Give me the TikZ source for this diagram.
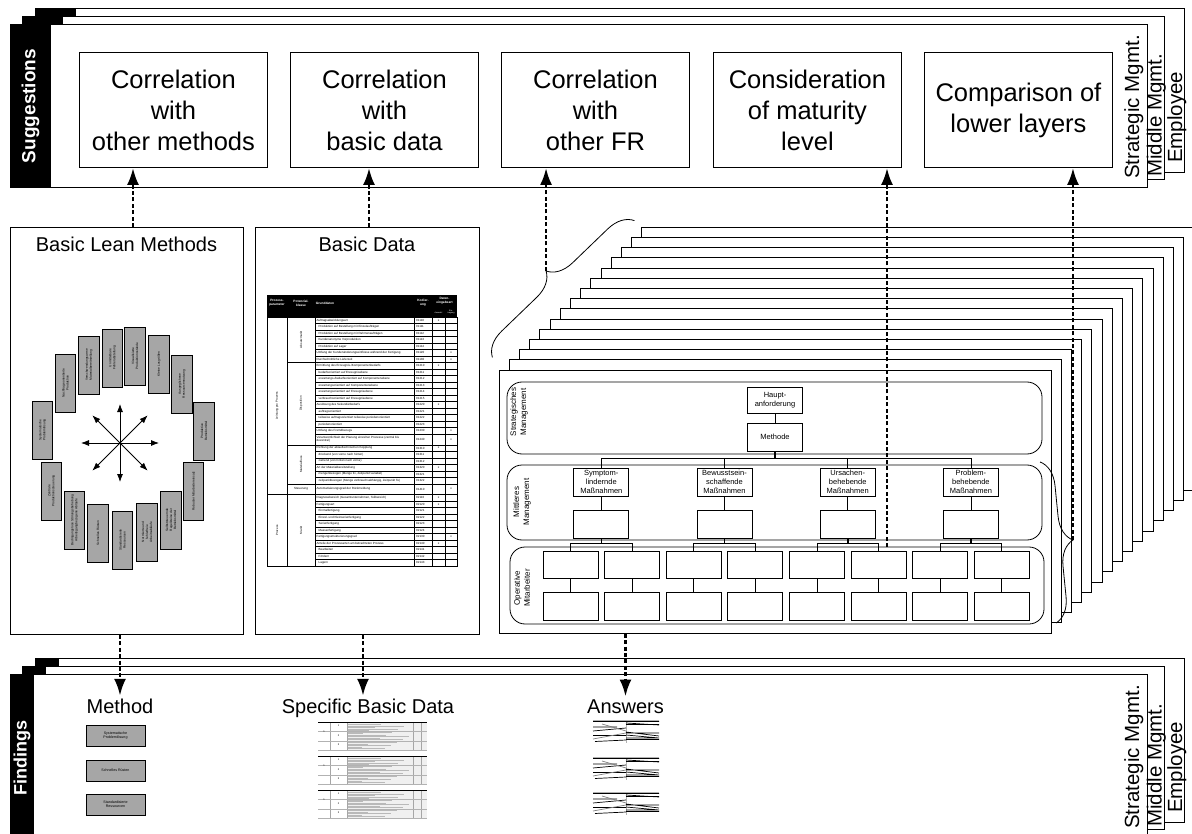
\documentclass[tikz,border=0pt]{standalone}
\usepackage{fontspec}
\setmainfont{Liberation Sans}
\usetikzlibrary{calc, positioning, arrows.meta, decorations.pathreplacing}

\tikzstyle{dasharrow} = [draw, line width=2.7pt, dash pattern=on 4pt off 2.4pt, -{Latex[length=17pt,width=12pt]}]
\tikzstyle{sheet} = [draw, line width=0.8pt, fill=white]
\tikzstyle{sugbox} = [draw, line width=0.9pt, anchor=north west, minimum width=188pt, minimum height=115pt, inner sep=0pt, align=center, font=\fontsize{25.5}{31}\selectfont]
\tikzstyle{panel} = [draw, line width=0.9pt, anchor=north west, inner sep=0pt]
\tikzstyle{paneltitle} = [anchor=base, inner sep=2.5pt, font=\fontsize{20}{24}\selectfont]
\tikzstyle{mgmt} = [rotate=90, anchor=base west, inner sep=0pt, font=\fontsize{20.5}{24}\selectfont]
\tikzstyle{leanbox} = [draw, fill=black!35, line width=0.7pt, rotate=90, minimum width=58pt, minimum height=20.5pt, inner sep=0.5pt, align=center, font=\fontsize{3.2}{3.9}\selectfont]
\tikzstyle{methbox} = [draw, fill=black!35, line width=0.8pt, minimum width=59pt, minimum height=21pt, inner sep=0.5pt, align=center, font=\fontsize{3.6}{4.4}\selectfont]
\tikzstyle{orgbox} = [draw, line width=0.8pt, fill=white, minimum width=55pt, minimum height=28pt, inner sep=0pt, align=center, font=\fontsize{7.5}{9.2}\selectfont]
\tikzstyle{lane} = [draw, line width=0.8pt, rounded corners=15pt]
\tikzstyle{lanelabel} = [rotate=90, align=center, inner sep=0pt, font=\fontsize{8}{10}\selectfont]
\tikzstyle{cell} = [anchor=west, inner sep=0pt, align=left]

\begin{document}
\begin{tikzpicture}[x=1pt, y=-1pt]
\useasboundingbox (0,0) rectangle (1192,834);

% Stacked bands (Suggestions on top, Findings at the bottom)
\foreach \dy/\tw/\band/\fs/\ty in {0/41/Suggestions/19/106, 650/24/Findings/18/758} {
    \draw[sheet] (35,8+\dy) rectangle (1184,172+\dy);
    \fill (35,8+\dy) rectangle (35+\tw,172+\dy);
    \draw[sheet] (22,16+\dy) rectangle (1164,179+\dy);
    \fill (22,16+\dy) rectangle (22+\tw,179+\dy);
    \draw[sheet] (10,24+\dy) rectangle (1147,187+\dy);
    \fill (10,24+\dy) rectangle (10+\tw,187+\dy);
    \node[rotate=90, text=white, font=\bfseries\fontsize{\fs}{\fs}\selectfont] (band\dy) at (10+\tw/2,\ty) {\band};
    \node[mgmt] (strat\dy) at (1139,179+\dy) {Strategic Mgmt.};
    \node[mgmt] (middle\dy) at (1161.5,177+\dy) {Middle Mgmt.};
    \node[mgmt] (empl\dy) at (1182,163+\dy) {Employee};
}

% Suggestions
\node[sugbox] (corrMeth) at (79,52) {Correlation\\with\\other methods};
\node[sugbox] (corrData) at (290,52) {Correlation\\with\\basic data};
\node[sugbox] (corrFR) at (501,52) {Correlation\\with\\other FR};
\node[sugbox] (maturity) at (713,52) {Consideration\\of maturity\\level};
\node[sugbox] (lowerLay) at (924,52) {Comparison of\\lower layers};

% Basic Lean Methods
\node[panel, minimum width=233pt, minimum height=407pt] (leanBox) at (10,227) {};
\node[paneltitle] (leanTitle) at (126.5,252) {Basic Lean Methods};
\foreach \x/\y/\txt [count=\n] in {
    112.5/358/{Unmittelbare\\Fehlerabstellung},
    135/356/{Visualisierte\\Produktionsstände},
    159/364/{Kleine Losgrößen},
    182/384/{Ausgeglichene\\Ressourcennutzung},
    204/431/{Produktive\\Betriebsmittel},
    193.5/491/{Robuster Mitarbeitereinsatz},
    171/520/{Selbststeuernde\\Regelkreise der\\Betriebsmittel},
    147/532/{Normierte und\\fehlerfreie\\Arbeitsabläufe},
    122.5/540/{Standardisierte\\Ressourcen},
    98/533/{Schnelles Rüsten},
    74.5/520/{Bedingungslose Störungsbehebung\\Arbeitsgangbezogene Abläufe},
    51.5/491/{Zentrale\\Produktionssteuerung},
    42.5/430/{Systematische\\Problemlösung},
    65.5/383/{Nachfrageorientierte\\Produktion},
    89/365/{Verschwendungsarme\\Materialbereitstellung}}
    \node[leanbox] (lean\n) at (\x,\y) {\txt};
\coordinate (hub) at (120,443);
\foreach \a in {0,45,...,315}
    \draw[line width=0.8pt, -{Latex[length=8pt,width=6pt]}] (hub) -- ++(\a:39);

% Basic Data
\node[panel, minimum width=224pt, minimum height=407pt] (dataBox) at (255,227) {};
\node[paneltitle] (dataTitle) at (367,252) {Basic Data};
\begin{scope}[shift={(267,295)}, font=\fontsize{3}{3.6}\selectfont]
    \fill (0,0) rectangle (190,22);
    \foreach \x/\y/\txt [count=\n] in {10/8/{Prozess-\\parameter}, 34/8/{Potenzial-\\klasse}, 58/8/Grunddaten,
                                       156/8/{Kodier-\\ung}, 177.5/6/{Daten-\\eingabeart}}
        \node[text=white, align=center, inner sep=0pt, font=\bfseries\fontsize{3.2}{3.8}\selectfont] (head\n) at (\x,\y) {\txt};
    \node[text=white, inner sep=0pt, font=\fontsize{2}{2.4}\selectfont] (headA) at (171.5,18) {Auswahl};
    \node[text=white, align=center, inner sep=0pt, font=\fontsize{2}{2.4}\selectfont] (headB) at (184,17) {Ein-\\tragung};
    \draw[line width=0.5pt] (0,22) rectangle (190,271);
    \foreach \x in {20,48,147,165,178}
        \draw[line width=0.4pt] (\x,22) -- (\x,271);
    \foreach \y in {28.5,35,...,139}
        \draw[line width=0.3pt] (48,\y) -- (190,\y);
    \foreach \y in {149.75,156.25,...,188.75}
        \draw[line width=0.3pt] (48,\y) -- (190,\y);
    \foreach \y in {199.5,206,...,264.5}
        \draw[line width=0.3pt] (48,\y) -- (190,\y);
    \foreach \y in {67.5,149.75,188.75}
        \draw[line width=0.4pt] (20,\y) -- (48,\y);
    \draw[line width=0.4pt] (0,199.5) -- (48,199.5);
    % group labels
    \node[rotate=90, inner sep=0pt] (grpA) at (10,110.75) {Leistung pro Prozess};
    \node[rotate=90, inner sep=0pt] (grpB) at (10,235.25) {Prozess};
    \node[rotate=90, inner sep=0pt] (grpC) at (34,44.75) {Absatzmarkt};
    \node[rotate=90, inner sep=0pt] (grpD) at (34,108.6) {Disposition};
    \node[rotate=90, inner sep=0pt] (grpE) at (34,169.25) {Materialfluss};
    \node[inner sep=0pt] (grpF) at (34,194.1) {Steuerung};
    \node[rotate=90, inner sep=0pt] (grpG) at (34,235.25) {Markt};
    % rows
    \foreach \y/\ind/\code/\txt [count=\n] in {
        25.25/0/01110/{Auftragsabwicklungsart},
        31.75/2/01111/{Produktion auf Bestellung mit Einzelaufträgen},
        38.25/2/01112/{Produktion auf Bestellung mit Rahmenaufträgen},
        44.75/2/01113/{Kundenanonyme Vorproduktion},
        51.25/2/01114/{Produktion auf Lager},
        57.75/0/01120/{Umfang der Kundenänderungseinflüsse während der Fertigung},
        64.25/0/01130/{Durchschnittliche Lieferzeit},
        70.75/0/01210/{Ermittlung des Erzeugnis-/Komponentenbedarfs},
        77.25/2/01211/{bedarfsorientiert auf Erzeugnisebene},
        83.75/2/01212/{erwartungs-/bedarfsorientiert auf Komponentenebene},
        90.25/2/01213/{erwartungsorientiert auf Komponentenebene},
        96.75/2/01214/{erwartungsorientiert auf Erzeugnisebene},
        103.25/2/01215/{verbrauchsorientiert auf Erzeugnisebene},
        109.75/0/01220/{Auslösung des Sekundärbedarfs},
        116.25/2/01221/{auftragsorientiert},
        122.75/2/01222/{teilweise auftragsorientiert teilweise periodenorientiert},
        129.25/2/01223/{periodenorientiert},
        135.75/0/01230/{Umfang des Fremdbezugs},
        144.375/0/01240/{Verantwortlichkeit der Planung einzelner Prozesse (zentral bis\\dezentral)},
        153/0/01310/{Richtung der ablauftechnischen Kopplung},
        159.5/2/01311/{drückend (von vorne nach hinten)},
        166/2/01312/{ziehend (von hinten nach vorne)},
        172.5/0/01320/{Art der Materialbereitstellung},
        179/2/01321/{mengenbezogen (Menge fix, Zeitpunkt variabel)},
        185.5/2/01322/{zeitpunktbezogen (Menge verbrauchsabhängig, Zeitpunkt fix)},
        194.125/0/01410/{Automatisierungsgrad der Rückmeldung},
        202.75/0/02110/{Diagnosebereich (Gesamtunternehmen, Teilbereich)},
        209.25/0/02120/{Fertigungsart},
        215.75/2/02121/{Einmalfertigung},
        222.25/2/02122/{Einzel- und Kleinserienfertigung},
        228.75/2/02123/{Serienfertigung},
        235.25/2/02124/{Massenfertigung},
        241.75/0/02130/{Fertigungsstrukturierungsgrad},
        248.25/0/02140/{Anteile der Prozessarten am betrachteten Prozess},
        254.75/2/02141/{Bearbeiten},
        261.25/2/02142/{Fördern},
        267.75/2/02143/{Lagern}} {
        \node[cell] (row\n) at (49.5+\ind,\y) {\txt};
        \node[cell] (code\n) at (149,\y) {\code};
    }
    \foreach \x/\y [count=\n] in {171.5/25.25, 171.5/70.75, 171.5/109.75, 171.5/153, 171.5/172.5,
                                  171.5/202.75, 171.5/209.25, 171.5/248.25, 184/57.75, 184/64.25,
                                  184/135.75, 184/144.375, 184/194.125, 184/241.75}
        \node[inner sep=0pt] (mark\n) at (\x,\y) {x};
\end{scope}

% Stack of front layers
\foreach \k in {14,13,...,1}
    \draw[sheet] (499+10.2*\k,370-10.2*\k) rectangle ++(552,263);
\node[sheet, anchor=north west, minimum width=552pt, minimum height=263pt, inner sep=0pt] (stack) at (499,370) {};
\draw[lane] (507,382) rectangle (1042,454);
\draw[lane] (507,465) rectangle (1042,540);
\draw[lane] (510,547) rectangle (1044,624);
\node[lanelabel] (stratLbl) at (519,412) {Strategisches\\Management};
\node[lanelabel] (midLbl) at (522,502) {Mittleres\\Management};
\node[lanelabel] (operLbl) at (522,588) {Operative\\Mitarbeiter};

\node[orgbox, minimum height=26pt] (haupt) at (775,400) {Haupt-\\anforderung};
\node[orgbox] (methode) at (775,437) {Methode};
\draw[line width=0.8pt] (haupt) -- (methode);
\draw[line width=1.6pt] (methode.south) -- ++(0,7);
\foreach \j/\txt in {1/{Symptom-\\lindernde\\Maßnahmen}, 2/{Bewusstsein-\\schaffende\\Maßnahmen},
                     3/{Ursachen-\\behebende\\Maßnahmen}, 4/{Problem-\\behebende\\Maßnahmen}} {
    \pgfmathsetmacro\cx{478.1+123.2*\j}
    \node[orgbox] (mt\j) at (\cx,482) {\txt};
    \node[orgbox] (me\j) at (\cx,524) {};
    \node[orgbox, minimum height=27pt] (oa\j) at (\cx-30.8,564.5) {};
    \node[orgbox, minimum height=27pt] (ob\j) at (\cx+30.8,564.5) {};
    \node[orgbox] (oc\j) at (\cx-30.8,606) {};
    \node[orgbox] (od\j) at (\cx+30.8,606) {};
    \draw[line width=0.8pt] (methode.south) -- ++(0,7) -| (mt\j.north);
    \draw[line width=0.8pt] (mt\j) -- (me\j);
    \draw[line width=1.6pt] (me\j.south) -- ++(0,5);
    \draw[line width=0.8pt] (me\j.south) -- ++(0,5) -| (oa\j.north);
    \draw[line width=0.8pt] (me\j.south) -- ++(0,5) -| (ob\j.north);
    \draw[line width=0.8pt] (oa\j) -- (oc\j);
    \draw[line width=0.8pt] (ob\j) -- (od\j);
}

% Braces over the stack
\coordinate (brA) at (492.4,357.4);
\coordinate (brB) at (634.4,220.6);
\draw[line width=0.8pt, decorate, decoration={brace, amplitude=25pt}] (brA) -- (brB);
\coordinate (frTip) at ($(brA)!0.5!(brB)!25pt!90:(brB)$);
\coordinate (brC) at (1040.1,462);
\coordinate (brD) at (1056.1,623);
\draw[line width=0.8pt, decorate, decoration={brace, amplitude=25pt}] (brC) -- (brD);
\coordinate (lowTip) at ($(brC)!0.5!(brD)!25pt!90:(brD)$);

% Arrows up to the suggestions
\coordinate (xLean) at (133,0);
\coordinate (xData) at (369,0);
\coordinate (matStart) at (887,547);
\draw[dasharrow] (leanBox.north -| xLean) -- (corrMeth.south -| xLean);
\draw[dasharrow] (dataBox.north -| xData) -- (corrData.south -| xData);
\draw[dasharrow] (frTip) -- (corrFR.south -| frTip);
\draw[dasharrow] (matStart) -- (maturity.south -| matStart);
\draw[dasharrow] (lowTip) -- (lowerLay.south -| lowTip);

% Findings
\node[paneltitle] (method) at (120,713) {Method};
\node[paneltitle] (specData) at (368,713) {Specific Basic Data};
\node[paneltitle] (answers) at (625.5,713) {Answers};
\coordinate (xSpec) at (363,0);
\draw[dasharrow] (leanBox.south -| method) -- (method.north);
\draw[dasharrow] (dataBox.south -| xSpec) -- (specData.north -| xSpec);
\draw[dasharrow] (stack.south -| answers) -- (answers.north);

\foreach \y/\txt [count=\n] in {735.5/{Systematische\\Problemlösung}, 770.5/{Schnelles Rüsten},
                                804.5/{Standardisierte\\Ressourcen}}
    \node[methbox] (meth\n) at (115.5,\y) {\txt};

% Specific basic data excerpts
\foreach \ya [count=\n] in {722,756,790} {
    \begin{scope}[shift={(318,\ya)}]
        \fill[gray!12] (29,1) rectangle (109,28);
        \foreach \h [count=\m] in {2.5,4,...,27}
            \draw[gray!55, line width=0.35pt] (30,\h) -- ++({10+mod(\m*23,52)},0);
        \foreach \v in {12,29,95,103}
            \draw[gray!70, line width=0.4pt] (\v,0) -- (\v,28);
        \foreach \h in {9.5,19,28}
            \draw[gray!60, line width=0.3pt] (0,\h) -- (109,\h);
        \draw[line width=1.3pt] (0,0.6) -- (109,0.6);
        \node[inner sep=0pt, font=\fontsize{2.5}{3}\selectfont] (exA\n) at (6,10) {1};
        \node[inner sep=0pt, font=\fontsize{2.5}{3}\selectfont] (exB\n) at (20.5,4) {1};
        \node[inner sep=0pt, font=\fontsize{2.5}{3}\selectfont] (exC\n) at (20.5,14) {2};
        \node[inner sep=0pt, font=\fontsize{2.5}{3}\selectfont] (exD\n) at (20.5,23) {3};
    \end{scope}
}

% Answers
\foreach \ya in {720,757,792} {
    \begin{scope}[shift={(593,\ya)}, line width=0.7pt]
        \draw[gray!60, line width=0.4pt] (0,0) -- (66,0) (33,0) -- (33,23);
        \draw (0,1.5) -- (33,1.5) (0,7) -- (24,7) (0,11) -- (33,8) (0,15.5) -- (33,15.5) (2,21.5) -- (33,20);
        \draw[gray] (9,4) -- (33,11) (0,19) -- (33,13);
        \draw (33,1.5) -- (66,1.5) (33,3) -- (66,5) (33,4.5) -- (66,4.5) (33,12) -- (66,16)
              (33,13) -- (66,13) (33,15) -- (66,18) (33,18) -- (66,18) (33,19.5) -- (66,19.5);
    \end{scope}
}

\end{tikzpicture}
\end{document}
